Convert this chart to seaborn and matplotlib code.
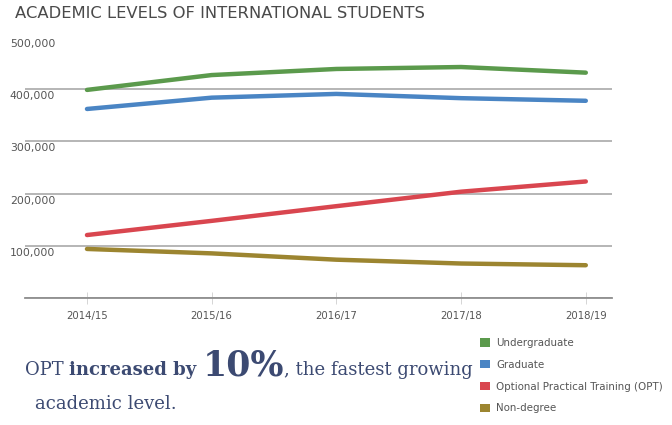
import numpy as np
import pandas as pd
import matplotlib
matplotlib.use('Agg')
import matplotlib.pyplot as plt
import matplotlib.transforms as mtransforms
from matplotlib.patches import Patch
import seaborn as sns

# data (Open Doors style values)
years = ['2014/15', '2015/16', '2016/17', '2017/18', '2018/19']
undergraduate = [398824, 427313, 439019, 442746, 431930]
graduate = [362228, 383935, 391124, 382953, 377943]
opt = [120287, 147498, 175695, 203462, 223085]
non_degree = [93587, 85093, 72984, 65631, 62341]

levels = ['Undergraduate', 'Graduate', 'Optional Practical Training (OPT)', 'Non-degree']
colors = ['#5b9a4c', '#4a85c4', '#d9464f', '#9c8530']
y_ticks = [100000, 200000, 300000, 400000, 500000]

df = pd.DataFrame({
    'year': years * 4,
    'idx': list(range(len(years))) * 4,
    'students': undergraduate + graduate + opt + non_degree,
    'level': [l for l in levels for _ in years],
})

sns.set_theme(style='white')
plt.rcParams['font.family'] = ['DejaVu Sans']

fig = plt.figure(figsize=(6.72, 4.25), dpi=100)
ax = fig.add_axes([0.0372, 0.2995, 0.8735, 0.613])

sns.lineplot(data=df, x='idx', y='students', hue='level', hue_order=levels,
             palette=colors, linewidth=3.2, legend=False, ax=ax,
             solid_capstyle='round')

ax.set_xlim(-0.497, 4.21)
ax.set_ylim(0, 500000)
ax.set_xlabel('')
ax.set_ylabel('')

# grid lines
ax.set_yticks([0] + y_ticks)
ax.yaxis.grid(True, color='#a9a9a9', linewidth=1.2)
ax.get_ygridlines()[-1].set_visible(False)
ax.set_axisbelow(True)
for s in ['top', 'right', 'left']:
    ax.spines[s].set_visible(False)
ax.spines['bottom'].set_color('#8f8f8f')
ax.spines['bottom'].set_linewidth(1.3)

# y labels drawn just below grid lines at left
ax.tick_params(axis='y', length=0, labelleft=False)
offset = mtransforms.ScaledTranslation(0, -7 / 100, fig.dpi_scale_trans)
for v in y_ticks:
    ax.text(-0.026, v, f'{v:,}', transform=ax.get_yaxis_transform() + offset,
            ha='left', va='center', fontsize=7.8, color='#555555')

ax.set_xticks(range(len(years)))
ax.set_xticklabels(years, fontsize=7.3, color='#555555')
ax.tick_params(axis='x', direction='inout', length=9, width=0.6,
               color='#cfcfcf', pad=5, bottom=True)

fig.text(0.022, 0.968, 'ACADEMIC LEVELS OF INTERNATIONAL STUDENTS',
         fontsize=11.8, color='#4a4a4a', ha='left', va='center')

# annotation text built from pieces
navy = '#3c4a72'
fig.canvas.draw()
renderer = fig.canvas.get_renderer()
x = 25 / 672
y = 1 - 375 / 425
pieces = [('OPT ', 'normal', 13), ('increased by ', 'bold', 13),
          ('10%', 'bold', 25), (', the fastest growing', 'normal', 13)]
for txt, weight, size in pieces:
    t = fig.text(x, y, txt, fontsize=size, fontweight=weight, color=navy,
                 family='DejaVu Serif', ha='left', va='baseline')
    bb = t.get_window_extent(renderer=renderer)
    x = (bb.x1) / fig.bbox.width
fig.text(35 / 672, 1 - 409 / 425, 'academic level.', fontsize=13, color=navy,
         family='DejaVu Serif', ha='left', va='baseline')

handles = [Patch(facecolor=c, edgecolor='none') for c in colors]
leg = fig.legend(handles, levels, loc='upper left', bbox_to_anchor=(0.715, 0.205),
                 frameon=False, fontsize=7.4, handlelength=0.9, handleheight=0.9,
                 handletextpad=0.6, labelspacing=1.15, borderaxespad=0,
                 borderpad=0)
for t in leg.get_texts():
    t.set_color('#555555')

fig.savefig('out.png', dpi=100)
